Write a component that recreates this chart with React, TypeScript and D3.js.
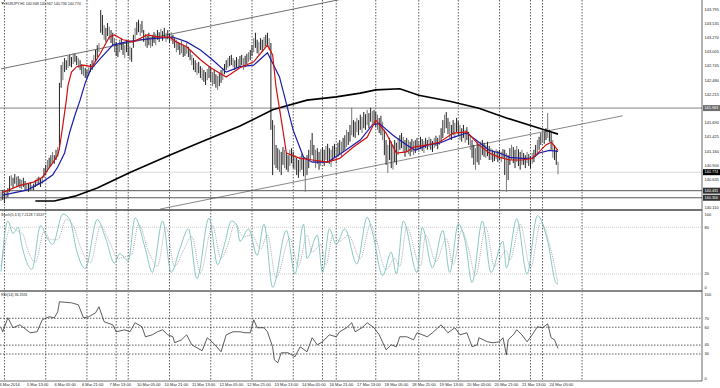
import React from 'react';
import * as d3 from 'd3';

// EURJPY H1, one entry per bar (bar 0 = 4 Mar 21:00)
const barHigh = [
  140.41, 140.44, 140.39, 140.44, 140.48, 140.70, 140.72, 140.67, 140.74, 140.69,
  140.70, 140.65, 140.63, 140.67, 140.61, 140.57, 140.56, 140.59, 140.54, 140.56,
  140.63, 140.67, 140.69, 140.65, 140.70, 140.85, 140.91, 141.00, 141.04, 141.09,
  141.15, 141.09, 141.19, 141.24, 142.43, 142.76, 142.82, 142.89, 142.85, 142.93,
  142.95, 142.91, 142.98, 142.97, 142.93, 142.89, 142.85, 142.78, 142.74, 142.71,
  142.67, 142.72, 142.78, 142.85, 142.95, 143.04, 143.13, 143.17, 143.78, 143.69,
  143.50, 143.45, 143.54, 143.47, 143.41, 143.36, 143.26, 143.19, 143.13, 143.23,
  143.26, 143.19, 143.13, 143.23, 143.17, 143.11, 143.08, 143.32, 143.45, 143.56,
  143.60, 143.52, 143.58, 143.41, 143.34, 143.30, 143.36, 143.28, 143.32, 143.37,
  143.34, 143.41, 143.37, 143.43, 143.39, 143.45, 143.36, 143.41, 143.34, 143.37,
  143.32, 143.26, 143.23, 143.19, 143.15, 143.21, 143.13, 143.11, 143.17, 143.10,
  143.04, 142.95, 142.89, 142.85, 142.80, 142.82, 142.74, 142.71, 142.67, 142.63,
  142.69, 142.74, 142.71, 142.63, 142.67, 142.59, 142.56, 142.61, 142.67, 142.71,
  142.78, 142.85, 142.89, 142.93, 142.95, 142.89, 142.85, 142.91, 142.87, 142.93,
  142.95, 142.89, 142.93, 142.97, 143.00, 143.04, 143.13, 143.26, 143.36, 143.23,
  143.19, 143.26, 143.23, 143.28, 143.32, 143.36, 143.26, 143.17, 141.74, 141.65,
  141.28, 141.22, 141.19, 141.15, 141.24, 141.19, 141.13, 141.09, 141.19, 141.22,
  141.15, 141.09, 141.04, 141.00, 141.07, 141.11, 141.04, 141.00, 141.09, 141.19,
  141.37, 141.50, 141.28, 141.19, 141.22, 141.15, 141.20, 141.24, 141.19, 141.26,
  141.30, 141.22, 141.19, 141.26, 141.30, 141.24, 141.32, 141.37, 141.34, 141.41,
  141.46, 141.56, 141.52, 141.65, 141.97, 141.74, 141.71, 141.78, 141.74, 141.84,
  141.80, 141.89, 141.85, 141.93, 141.87, 141.97, 141.91, 141.93, 141.89, 141.84,
  141.78, 141.82, 141.71, 141.56, 141.37, 141.28, 141.41, 141.34, 141.28, 141.37,
  141.32, 141.41, 141.46, 141.50, 141.43, 141.37, 141.41, 141.37, 141.34, 141.39,
  141.35, 141.37, 141.41, 141.35, 141.43, 141.39, 141.35, 141.41, 141.37, 141.43,
  141.39, 141.35, 141.41, 141.45, 141.41, 141.46, 141.59, 141.74, 141.84, 141.89,
  141.78, 141.71, 141.65, 141.74, 141.69, 141.78, 141.72, 141.65, 141.59, 141.65,
  141.56, 141.61, 141.52, 141.46, 141.37, 141.28, 141.22, 141.32, 141.28, 141.34,
  141.37, 141.32, 141.28, 141.34, 141.26, 141.22, 141.19, 141.15, 141.20, 141.17,
  141.19, 141.15, 141.20, 141.19, 141.13, 141.09, 141.22, 141.28, 141.24, 141.19,
  141.26, 141.20, 141.15, 141.19, 141.13, 141.09, 141.15, 141.11, 141.07, 141.13,
  141.19, 141.28, 141.37, 141.43, 141.50, 141.56, 141.52, 141.59, 141.87, 141.56,
  141.50, 141.37, 141.28, 141.19, 140.967,
];
const barLow = [
  140.24, 140.26, 140.20, 140.28, 140.31, 140.41, 140.52, 140.48, 140.56, 140.50,
  140.52, 140.48, 140.46, 140.50, 140.44, 140.43, 140.41, 140.44, 140.43, 140.44,
  140.50, 140.52, 140.54, 140.50, 140.56, 140.67, 140.72, 140.78, 140.85, 140.89,
  140.94, 140.93, 141.00, 141.06, 141.19, 142.34, 142.48, 142.63, 142.67, 142.71,
  142.74, 142.72, 142.78, 142.82, 142.76, 142.71, 142.67, 142.59, 142.56, 142.52,
  142.52, 142.56, 142.63, 142.67, 142.72, 142.82, 142.91, 143.00, 143.36, 143.32,
  143.23, 143.19, 143.30, 143.23, 143.17, 143.13, 143.00, 142.93, 142.91, 143.00,
  143.04, 142.95, 142.89, 143.00, 142.93, 142.85, 142.82, 143.08, 143.23, 143.32,
  143.37, 143.30, 143.36, 143.19, 143.11, 143.08, 143.13, 143.08, 143.11, 143.17,
  143.13, 143.23, 143.19, 143.26, 143.21, 143.28, 143.19, 143.24, 143.17, 143.21,
  143.15, 143.08, 143.00, 143.04, 142.95, 142.98, 142.91, 142.93, 142.97, 142.91,
  142.85, 142.76, 142.67, 142.63, 142.58, 142.61, 142.52, 142.48, 142.45, 142.39,
  142.48, 142.52, 142.45, 142.37, 142.41, 142.34, 142.30, 142.37, 142.43, 142.48,
  142.59, 142.67, 142.71, 142.74, 142.76, 142.72, 142.67, 142.71, 142.69, 142.74,
  142.76, 142.67, 142.72, 142.78, 142.82, 142.85, 142.93, 143.00, 143.08, 142.98,
  142.95, 143.04, 143.00, 143.08, 143.11, 143.10, 143.04, 141.56, 140.72, 140.91,
  140.85, 140.82, 140.78, 140.72, 140.91, 140.85, 140.82, 140.78, 140.89, 140.94,
  140.85, 140.82, 140.72, 140.67, 140.78, 140.82, 140.70, 140.41, 140.72, 140.85,
  141.00, 141.09, 140.96, 140.85, 140.93, 140.82, 140.89, 140.96, 140.89, 141.00,
  140.96, 140.93, 140.87, 141.00, 141.04, 140.94, 141.06, 141.09, 141.07, 141.15,
  141.19, 141.24, 141.28, 141.34, 141.46, 141.43, 141.41, 141.52, 141.46, 141.56,
  141.50, 141.59, 141.56, 141.65, 141.59, 141.71, 141.65, 141.67, 141.61, 141.56,
  141.50, 141.46, 141.37, 141.09, 140.91, 140.76, 141.00, 140.85, 140.82, 140.96,
  140.91, 141.09, 141.19, 141.22, 141.15, 141.06, 141.15, 141.11, 141.07, 141.15,
  141.09, 141.13, 141.19, 141.15, 141.20, 141.17, 141.13, 141.22, 141.19, 141.24,
  141.19, 141.15, 141.22, 141.26, 141.20, 141.28, 141.34, 141.41, 141.50, 141.59,
  141.48, 141.41, 141.37, 141.46, 141.41, 141.52, 141.45, 141.37, 141.34, 141.41,
  141.32, 141.37, 141.28, 141.19, 141.04, 140.91, 140.82, 140.96, 140.91, 141.00,
  141.09, 141.06, 141.04, 141.07, 141.00, 141.00, 140.96, 140.98, 141.02, 140.96,
  141.00, 140.96, 141.04, 140.72, 140.41, 140.63, 140.91, 141.00, 140.94, 140.85,
  140.96, 140.89, 140.82, 140.91, 140.91, 140.85, 140.94, 140.89, 140.85, 140.93,
  140.96, 141.06, 141.13, 141.19, 141.28, 141.32, 141.30, 141.37, 141.41, 141.34,
  141.19, 141.04, 141.00, 140.91, 140.736,
];

// moving averages: [bar, price]
const maRed = [
  [1, 140.40], [11, 140.53], [19, 140.59], [24, 140.68], [30, 140.94], [33, 141.09],
  [34, 141.22], [36, 141.65], [38, 142.11], [39, 142.39], [41, 142.63], [44, 142.73],
  [48, 142.76], [53, 142.73], [58, 142.99], [63, 143.28], [66, 143.32], [71, 143.23],
  [77, 143.19], [85, 143.32], [92, 143.28], [98, 143.28], [102, 143.19], [108, 143.10],
  [116, 142.86], [122, 142.71], [131, 142.54], [139, 142.71], [147, 142.82], [155, 143.13],
  [158, 142.95], [160, 142.35], [164, 141.55], [166, 141.13], [174, 141.03], [181, 141.00],
  [190, 140.96], [197, 141.03], [205, 141.24], [213, 141.42], [218, 141.74], [224, 141.50],
  [230, 141.13], [236, 141.15], [240, 141.24], [248, 141.28], [255, 141.33], [263, 141.50],
  [271, 141.52], [278, 141.28], [284, 141.13], [290, 141.05], [296, 141.00], [303, 141.00],
  [309, 141.03], [313, 141.15], [317, 141.28], [320, 141.33], [324, 141.18],
];
const maBlue = [
  [1, 140.35], [15, 140.44], [24, 140.59], [30, 140.72], [33, 140.87], [37, 141.13],
  [40, 141.52], [43, 141.83], [46, 142.11], [49, 142.43], [52, 142.67], [58, 142.89],
  [65, 143.13], [73, 143.19], [81, 143.23], [92, 143.26], [100, 143.28], [108, 143.19],
  [116, 143.04], [123, 142.86], [131, 142.63], [139, 142.73], [147, 142.76], [155, 142.99],
  [162, 142.54], [170, 141.55], [176, 141.05], [181, 140.96], [190, 140.96], [199, 141.15],
  [209, 141.37], [216, 141.65], [220, 141.68], [228, 141.46], [236, 141.28], [241, 141.18],
  [248, 141.28], [255, 141.31], [263, 141.42], [271, 141.50], [278, 141.33], [284, 141.18],
  [290, 141.13], [296, 141.05], [303, 141.03], [309, 141.03], [313, 141.13], [319, 141.18],
  [324, 141.16],
];
const ma200 = [
  [20, 140.24], [31, 140.24], [43, 140.33], [56, 140.48], [75, 140.77], [98, 141.09],
  [116, 141.33], [139, 141.63], [158, 141.93], [178, 142.11], [195, 142.17], [209, 142.24],
  [218, 142.30], [232, 142.32], [243, 142.20], [261, 142.09], [278, 141.96], [294, 141.78],
  [315, 141.57], [324, 141.48],
];

// drawn objects
const trendUpper = [[0, 142.69], [230, 144.19]];
const trendLower = [[92.5, 140.09], [361.6, 141.82]];
const levelPrices = [141.963, 140.431, 140.300];
const lastPrice = 140.774;
const titleText = 'EURJPY,H1 140.948 140.967 140.736 140.774';

// Stochastic(5,3,3): [bar, value]
const stochMain = [
  [0, 23], [4, 88], [7, 72], [10, 80], [12, 58], [18, 26], [23, 82], [27, 66], [30, 58],
  [36, 97], [40, 90], [44, 50], [49, 27], [56, 90], [61, 65], [66, 34], [69, 46], [74, 37],
  [78, 92], [84, 52], [88, 22], [94, 88], [99, 22], [104, 52], [109, 78], [114, 14],
  [121, 92], [126, 32], [130, 58], [134, 88], [137, 84], [139, 62], [144, 78], [149, 44],
  [153, 84], [158, 3], [166, 76], [171, 20], [176, 84], [178, 40], [184, 70], [187, 22],
  [191, 78], [195, 58], [200, 78], [207, 33], [213, 93], [216, 74], [222, 18], [227, 48],
  [230, 20], [234, 88], [242, 22], [245, 80], [251, 28], [257, 76], [261, 22], [266, 84],
  [270, 62], [274, 9], [280, 88], [285, 22], [292, 62], [294, 28], [300, 91], [306, 20],
  [312, 95], [318, 62], [323, 8], [324, 7.2128],
];
const stochSignal = [
  [0, 30], [6, 80], [9, 76], [13, 70], [15, 55], [20, 35], [25, 74], [29, 64], [33, 64],
  [38, 90], [42, 82], [47, 50], [52, 35], [58, 82], [63, 62], [68, 40], [72, 42], [76, 45],
  [80, 84], [86, 48], [91, 30], [96, 80], [101, 30], [106, 50], [111, 68], [116, 22],
  [123, 82], [128, 40], [132, 58], [136, 84], [141, 68], [146, 70], [151, 52], [155, 70],
  [160, 15], [168, 66], [173, 30], [178, 70], [181, 48], [186, 58], [189, 32], [193, 70],
  [197, 62], [202, 70], [209, 40], [215, 84], [218, 66], [224, 26], [229, 40], [232, 30],
  [236, 80], [244, 30], [247, 70], [253, 36], [259, 66], [263, 32], [268, 76], [272, 52],
  [276, 18], [282, 80], [287, 30], [294, 50], [296, 38], [302, 84], [308, 28], [314, 86],
  [320, 50], [324, 7.6537],
];

// RSI(14): [bar, value]
const rsiValues = [
  [0, 59.4], [1, 54.9], [4, 70.5], [7, 59.4], [11, 62.7], [17, 53.8], [21, 54.9], [24, 68.3],
  [28, 71.7], [31, 70.5], [33, 77.3], [34, 88.5], [41, 87.3], [45, 85.1], [48, 70.5],
  [51, 71.7], [55, 76.1], [57, 82.9], [60, 66.1], [65, 62.7], [67, 54.9], [72, 57.1],
  [75, 54.9], [78, 65.0], [82, 60.5], [84, 49.3], [88, 51.5], [91, 54.9], [94, 57.1],
  [97, 51.5], [100, 49.3], [101, 42.6], [105, 45.9], [108, 51.5], [111, 40.3], [117, 33.6],
  [120, 48.2], [124, 41.4], [128, 32.5], [131, 51.5], [135, 54.9], [139, 54.9], [142, 53.8],
  [145, 53.8], [147, 68.3], [149, 59.4], [153, 59.4], [155, 54.9], [158, 38.1], [159, 23.5],
  [161, 20.2], [163, 31.4], [167, 31.4], [171, 26.9], [174, 38.1], [178, 32.5], [181, 48.2],
  [184, 40.3], [187, 43.7], [191, 51.5], [195, 49.3], [197, 54.9], [201, 59.4], [204, 65.0],
  [206, 54.9], [210, 59.4], [213, 65.0], [217, 59.4], [220, 51.5], [224, 34.7], [227, 40.3],
  [230, 38.1], [232, 49.3], [236, 49.3], [240, 45.9], [242, 53.8], [248, 49.3], [251, 53.8],
  [256, 62.7], [260, 53.8], [264, 59.4], [267, 51.5], [271, 53.8], [274, 38.1], [277, 40.3],
  [278, 48.2], [283, 43.7], [286, 42.6], [290, 43.7], [292, 48.2], [294, 29.1], [295, 45.9],
  [298, 51.5], [300, 57.1], [303, 51.5], [306, 43.7], [309, 51.5], [312, 60.5], [315, 59.4],
  [318, 63.8], [320, 48.2], [322, 45.9], [324, 36.1926],
];

// axes
const priceTicks = [
  143.795, 143.535, 143.270, 143.005, 142.745, 142.480, 142.215, 141.955,
  141.690, 141.425, 141.160, 140.900, 140.635, 140.370, 140.110,
];
const timeLabels = [
  '4 Mar 2014', '5 Mar 13:00', '6 Mar 05:00', '6 Mar 21:00', '7 Mar 13:00', '10 Mar 05:00',
  '10 Mar 21:00', '11 Mar 13:00', '12 Mar 05:00', '12 Mar 21:00', '13 Mar 13:00',
  '14 Mar 05:00', '16 Mar 21:00', '17 Mar 13:00', '18 Mar 05:00', '18 Mar 21:00',
  '19 Mar 13:00', '20 Mar 05:00', '20 Mar 21:00', '21 Mar 13:00', '24 Mar 05:00',
];
const separatorBars = [2, 26, 50, 67, 74, 98, 122, 146, 170, 187, 195, 218, 243, 266, 290, 308, 315, 338];
const stochLevels = [80, 20];
const stochLabels = [100, 80, 20, 0];
const rsiLevels = [70, 60, 40, 30];
const rsiLabels = [100, 70, 60, 40, 30, 0];

const FONT = "'Liberation Sans', Arial, sans-serif";

export default function App() {
  const plotRight = 702;
  const mainBottom = 210;

  const x = d3.scaleLinear().domain([0, barHigh.length - 1]).range([1, 558]);
  const yPrice = d3.scaleLinear().domain([140.073, 143.967]).range([mainBottom, 0]);
  const yStoch = d3.scaleLinear().domain([0, 100]).range([289.6, 211.7]);
  const yRsi = d3.scaleLinear().domain([0, 100]).range([380.8, 291.5]);

  const priceLine = d3.line().x(d => x(d[0])).y(d => yPrice(d[1]));
  const stochLine = d3.line().x(d => x(d[0])).y(d => yStoch(d[1])).curve(d3.curveMonotoneX);
  const rsiLine = d3.line().x(d => x(d[0])).y(d => yRsi(d[1]));

  const axisText = { fontFamily: FONT, fontSize: 4, fill: '#222' };
  const boxed = [...levelPrices, lastPrice];
  // tick labels sitting under a price box are hidden, as on the terminal
  const visibleTicks = priceTicks.filter(p => boxed.every(b => Math.abs(yPrice(p) - yPrice(b)) > 4.5));

  const box = (price, bg) => {
    const y = yPrice(price);
    return (
      <g key={'b' + price}>
        <rect x={plotRight + 1} y={y - 3} width={17} height={6} fill={bg} />
        <text x={plotRight + 2.5} y={y + 1.3} style={{ ...axisText, fontSize: 3.8, fill: '#fff' }}>{price.toFixed(3)}</text>
      </g>
    );
  };

  return (
    <div style={{ position: 'absolute', left: 0, top: 0 }}>
      <svg width={720} height={388} style={{ display: 'block', background: '#fff' }}>
        <defs>
          <clipPath id="mainClip"><rect x={0} y={0} width={plotRight} height={mainBottom} /></clipPath>
        </defs>

        {/* period separators */}
        {separatorBars.map(b => (
          <line key={'s' + b} x1={x(b)} x2={x(b)} y1={0} y2={381} stroke="#333" strokeWidth={0.8} strokeDasharray="1.5,1.5" />
        ))}

        {/* stochastic / rsi level lines */}
        {stochLevels.map(v => (
          <line key={'sl' + v} x1={0} x2={plotRight} y1={yStoch(v)} y2={yStoch(v)} stroke="#bbb" strokeWidth={0.7} strokeDasharray="1,1" />
        ))}
        {rsiLevels.map(v => (
          <line key={'rl' + v} x1={0} x2={plotRight} y1={yRsi(v)} y2={yRsi(v)} stroke="#333" strokeWidth={0.8} strokeDasharray="1.5,1.5" />
        ))}

        <g clipPath="url(#mainClip)">
          {/* horizontal price lines */}
          <line x1={0} x2={plotRight} y1={yPrice(levelPrices[0])} y2={yPrice(levelPrices[0])} stroke="#777" strokeWidth={0.9} />
          <line x1={0} x2={plotRight} y1={yPrice(levelPrices[1])} y2={yPrice(levelPrices[1])} stroke="#444" strokeWidth={0.9} />
          <line x1={0} x2={plotRight} y1={yPrice(levelPrices[2])} y2={yPrice(levelPrices[2])} stroke="#444" strokeWidth={0.9} />
          <line x1={0} x2={plotRight} y1={yPrice(lastPrice)} y2={yPrice(lastPrice)} stroke="#d0d0d0" strokeWidth={0.8} />

          {/* trend lines */}
          <path d={priceLine(trendUpper)} stroke="#333" strokeWidth={0.7} fill="none" />
          <path d={priceLine(trendLower)} stroke="#555" strokeWidth={0.7} fill="none" />

          {/* bars */}
          {barHigh.map((h, i) => (
            <line key={'bar' + i} x1={x(i)} x2={x(i)} y1={yPrice(h)} y2={yPrice(barLow[i])} stroke={i % 3 === 0 ? '#777' : '#222'} strokeWidth={1} />
          ))}

          <path d={priceLine(ma200)} stroke="#000" strokeWidth={1.6} fill="none" />
          <path d={priceLine(maBlue)} stroke="#1c1ca8" strokeWidth={1.2} fill="none" />
          <path d={priceLine(maRed)} stroke="#d01010" strokeWidth={1.2} fill="none" />
        </g>

        {/* stochastic */}
        <path d={stochLine(stochSignal)} stroke="#999" strokeWidth={0.8} strokeDasharray="1,1" fill="none" />
        <path d={stochLine(stochMain)} stroke="#7cc0bd" strokeWidth={0.9} fill="none" />

        {/* rsi */}
        <path d={rsiLine(rsiValues)} stroke="#333" strokeWidth={0.8} fill="none" />

        {/* panel frames */}
        <line x1={0} x2={plotRight} y1={mainBottom} y2={mainBottom} stroke="#444" strokeWidth={1.6} />
        <line x1={0} x2={plotRight} y1={291} y2={291} stroke="#888" strokeWidth={2.2} />
        <line x1={0} x2={plotRight} y1={381} y2={381} stroke="#444" strokeWidth={0.8} />
        <line x1={plotRight} x2={plotRight} y1={0} y2={381} stroke="#444" strokeWidth={0.8} />

        {/* titles */}
        <path d="M1.2,2.4 L4.2,2.4 L2.7,4.6 Z" fill="#333" />
        <text x={5.5} y={4.8} style={{ ...axisText, fontSize: 3.6 }}>{titleText}</text>
        <text x={1} y={215.5} style={{ ...axisText, fontSize: 3.6 }}>Stoch(5,3,3) 7.2128 7.6537</text>
        <text x={1} y={296} style={{ ...axisText, fontSize: 3.6 }}>RSI(14) 36.1926</text>

        {/* price axis */}
        {visibleTicks.map(p => (
          <text key={'pt' + p} x={plotRight + 2.5} y={yPrice(p) + 1.4} style={axisText}>{p.toFixed(3)}</text>
        ))}
        {box(levelPrices[0], '#6e6e6e')}
        {box(levelPrices[1], '#333')}
        {box(levelPrices[2], '#333')}
        {box(lastPrice, '#000')}

        {/* oscillator axes */}
        {stochLabels.map(v => (
          <text key={'sa' + v} x={plotRight + 2.5} y={Math.min(Math.max(yStoch(v), 214.3), 287.3) + 1.4} style={axisText}>{v}</text>
        ))}
        {rsiLabels.map(v => (
          <text key={'ra' + v} x={plotRight + 2.5} y={Math.min(Math.max(yRsi(v), 294.2), 378.3) + 1.4} style={axisText}>{v}</text>
        ))}

        {/* time axis */}
        {timeLabels.map((t, k) => (
          <text key={'tl' + k} x={x(k * 16) - 1.5} y={385.8} style={axisText}>{t}</text>
        ))}
      </svg>
    </div>
  );
}
